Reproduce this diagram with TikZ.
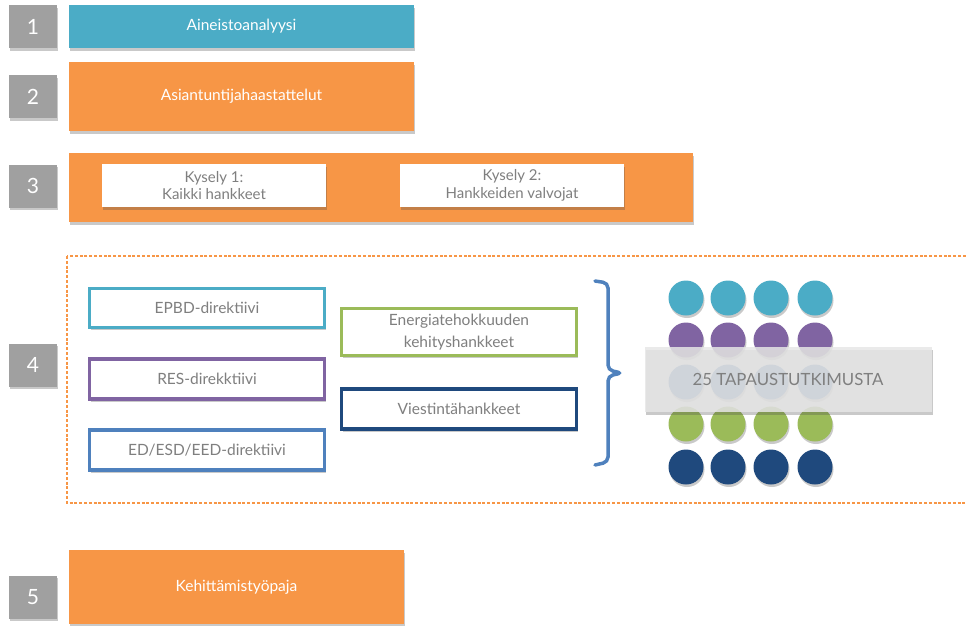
\documentclass[tikz,border=0pt]{standalone}
\usepackage{fontspec}
\setmainfont{Lato}
\usetikzlibrary{shadows}
\definecolor{cblue}{HTML}{4BACC6}
\definecolor{corange}{HTML}{F79646}
\definecolor{cgray}{HTML}{A0A0A0}
\definecolor{cpurple}{HTML}{8064A2}
\definecolor{cmid}{HTML}{4F81BD}
\definecolor{cgreen}{HTML}{9BBB59}
\definecolor{cnavy}{HTML}{1F497D}
\definecolor{ctext}{HTML}{7F7F7F}
\definecolor{cover}{HTML}{E6E6E6}
\begin{document}
\begin{tikzpicture}[x=1pt,y=-1pt,
  shad/.style={drop shadow={shadow xshift=1pt,shadow yshift=-2.5pt,opacity=0.3,fill=black!70}},
  numbox/.style={shad,fill=cgray,draw=none,text=white,minimum width=48pt,minimum height=43pt,inner sep=0pt,font=\fontsize{21}{21}\selectfont},
  bar/.style={shad,draw=none,text=white,inner sep=0pt,font=\fontsize{15.5}{18}\selectfont},
  whitebox/.style={shad,fill=white,draw=none,text=ctext,inner sep=0pt,align=center,minimum width=224pt,minimum height=43pt,font=\fontsize{15}{17.5}\selectfont},
  framebox/.style={shad,fill=white,draw=#1,line width=3.5pt,text=ctext,inner sep=0pt,align=center,minimum width=235pt,font=\fontsize{15.5}{22}\selectfont},
  dot/.style={circle,fill=#1,draw=none,minimum size=35pt,inner sep=0pt,drop shadow={shadow xshift=1pt,shadow yshift=-2.5pt,opacity=0.3,fill=black!70}}
]
\useasboundingbox (0,0) rectangle (967,625);
% row 1
\node[numbox] (n1) at (33,26.5) {1};
\node[bar,fill=cblue,minimum width=345pt,minimum height=43pt] (b1) at (241.5,26.5) {Aineistoanalyysi};
% row 2
\node[numbox] (n2) at (33,96.5) {2};
\node[bar,fill=corange,minimum width=345pt,minimum height=69pt] (b2) at (241.5,96.5) {Asiantuntijahaastattelut};
% row 3
\node[numbox] (n3) at (33,186) {3};
\node[bar,fill=corange,minimum width=624pt,minimum height=69pt] (b3) at (381,187.5) {};
\node[whitebox] (k1) at (214,185.5) {Kysely 1:\\Kaikki hankkeet};
\node[whitebox] (k2) at (512,185.5) {Kysely 2:\\Hankkeiden valvojat};
% row 4
\draw[corange,line width=1.1pt,dash pattern=on 3pt off 1.8pt] (67,256) rectangle (975,503);
\node[numbox] (n4) at (33,365) {4};
\node[framebox=cblue,minimum height=39pt] (epbd) at (207,308) {EPBD-direktiivi};
\node[framebox=cpurple,minimum height=40pt] (res) at (207,379) {RES-direkktiivi};
\node[framebox=cmid,minimum height=40pt] (ed) at (207,450) {ED/ESD/EED-direktiivi};
\node[framebox=cgreen,minimum height=47pt] (ene) at (459,332) {Energiatehokkuuden\\kehityshankkeet};
\node[framebox=cnavy,minimum height=40pt] (vie) at (459,409) {Viestintähankkeet};
\draw[cmid,line width=3.5pt,rounded corners=5pt,line cap=round] (595,281) -- (608,283) -- (608,370) -- (622,373) -- (608,376) -- (608,462) -- (595,465);
% circles
\foreach \c/\x in {1/686,2/728,3/771,4/815}{
  \node[dot=cblue] (r1c\c) at (\x,298) {};
  \node[dot=cpurple] (r2c\c) at (\x,340) {};
  \node[dot=cmid] (r3c\c) at (\x,382) {};
  \node[dot=cgreen] (r4c\c) at (\x,424) {};
  \node[dot=cnavy] (r5c\c) at (\x,467) {};
}
\node[shad,fill=cover,fill opacity=0.85,text opacity=1,draw=none,minimum width=287pt,minimum height=65pt,inner sep=0pt,text=ctext,font=\fontsize{16.8}{18}\selectfont] (tap) at (788,379.5) {25 TAPAUSTUTKIMUSTA};
% row 5
\node[numbox] (n5) at (33,597) {5};
\node[bar,fill=corange,minimum width=335pt,minimum height=74pt] (b5) at (236.5,587) {Kehittämistyöpaja};
\end{tikzpicture}
\end{document}
